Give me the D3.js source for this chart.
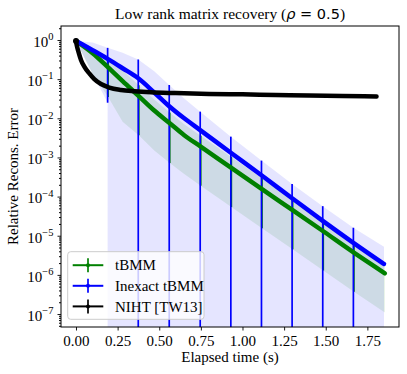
<!DOCTYPE html>
<html>
<head>
<meta charset="utf-8">
<script src="https://cdn.jsdelivr.net/npm/d3@7"></script>
<style>
  body { margin: 0; background: #fff; }
  svg { display: block; }
  text { font-family: "Liberation Serif", "Times New Roman", serif; }
</style>
</head>
<body>
<div id="chart"></div>
<script>
// tick labels
const xTicks = [0, 0.25, 0.5, 0.75, 1.0, 1.25, 1.5, 1.75];
const yTicks = [1, 1e-1, 1e-2, 1e-3, 1e-4, 1e-5, 1e-6, 1e-7];

// tBMM (green)
const tbmmTime = [0, 0.1, 0.193, 0.28, 0.377, 0.47, 0.563, 0.65, 0.749, 0.933, 1.117, 1.301, 1.485, 1.669, 1.855];
const tbmmErr  = [0.95, 0.46, 0.2, 0.089, 0.037, 0.0158, 0.0075, 0.0037, 0.0019, 5.4e-4, 1.55e-4, 4.5e-5, 1.3e-5, 3.7e-6, 1.1e-6];
const tbmmHi   = [0.95, 0.52, 0.33, 0.17, 0.07, 0.03, 0.014, 0.007, 0.0036, 1.03e-3, 2.95e-4, 8.5e-5, 2.5e-5, 7e-6, 2.1e-6];
const tbmmLo   = [0.95, 0.135, 0.035, 0.0082, 0.0037, 0.0015, 7.2e-4, 3.8e-4, 1.9e-4, 5.4e-5, 1.55e-5, 4.5e-6, 1.3e-6, 3.7e-7, 1.1e-7];
const tbmmBarTime = [0.193, 0.377, 0.563, 0.749, 0.933, 1.117, 1.301, 1.485, 1.669];

// Inexact tBMM (blue)
const inexactTime = [0, 0.1, 0.19, 0.28, 0.374, 0.47, 0.56, 0.65, 0.746, 0.93, 1.114, 1.298, 1.482, 1.666, 1.85];
const inexactErr  = [0.95, 0.55, 0.33, 0.19, 0.105, 0.0457, 0.0204, 0.01, 0.005, 1.32e-3, 3.5e-4, 9.1e-5, 2.4e-5, 6.6e-6, 1.9e-6];
// shaded spread (0 = below the axis)
const inexactBandTime = [0, 0.1, 0.19, 0.19, 0.28, 0.374, 0.47, 0.56, 0.65, 0.746, 0.93, 1.114, 1.298, 1.482, 1.666, 1.85];
const inexactHi = [0.95, 0.86, 0.63, 0.63, 0.47, 0.32, 0.16, 0.071, 0.032, 0.0148, 0.0034, 8.3e-4, 2.1e-4, 5.7e-5, 1.6e-5, 5.2e-6];
const inexactLo = [0.95, 0.135, 0.025, 0, 0, 0, 0, 0, 0, 0, 0, 0, 0, 0, 0, 0];
const inexactBarTime = [0.19, 0.374, 0.56, 0.746, 0.93, 1.114, 1.298, 1.482, 1.666];
const inexactBarHi   = [0.63, 0.32, 0.071, 0.0148, 0.0034, 8.3e-4, 2.1e-4, 5.7e-5, 1.6e-5];
const inexactBarLo   = [0.025, 0, 0, 0, 0, 0, 0, 0, 0];

// NIHT [TW13] (black)
const nihtTime = [0, 0.005, 0.015, 0.03, 0.05, 0.08, 0.11, 0.15, 0.2, 0.27, 0.35, 0.45, 0.6, 0.8, 1.0, 1.2, 1.4, 1.6, 1.805];
const nihtErr  = [0.95, 0.72, 0.5, 0.31, 0.21, 0.14, 0.1, 0.075, 0.061, 0.053, 0.049, 0.046, 0.044, 0.042, 0.041, 0.0395, 0.0385, 0.037, 0.036];

const legendLabels = ['tBMM', 'Inexact tBMM', 'NIHT [TW13]'];
const legendColors = ['green', 'blue', 'black'];

const fontSize = 15;

const margin = { top: 26, right: 8, bottom: 47, left: 61 },
    width = 407 - margin.left - margin.right,
    height = 374 - margin.top - margin.bottom;

const svg = d3.select('#chart').append('svg')
    .attr('width', 407)
    .attr('height', 374);

const g = svg.append('g')
    .attr('transform', 'translate(' + margin.left + ',' + margin.top + ')');

const x = d3.scaleLinear().domain([-0.09, 1.94]).range([0, width]);
const y = d3.scaleLog().domain([4.66e-8, 2.28]).range([height, 0]);

const yv = v => v > 0 ? y(v) : height + 20;

g.append('clipPath').attr('id', 'clip')
    .append('rect').attr('width', width).attr('height', height);

const plot = g.append('g').attr('clip-path', 'url(#clip)');

// shaded bands
const band = d3.area()
    .x(d => x(d.t))
    .y0(d => yv(d.lo))
    .y1(d => yv(d.hi));

plot.append('path')
    .datum(inexactBandTime.map((t, i) => ({ t: t, lo: inexactLo[i], hi: inexactHi[i] })))
    .attr('d', band)
    .attr('fill', 'blue').attr('fill-opacity', 0.1);

plot.append('path')
    .datum(tbmmTime.map((t, i) => ({ t: t, lo: tbmmLo[i], hi: tbmmHi[i] })))
    .attr('d', band)
    .attr('fill', 'green').attr('fill-opacity', 0.1);

// error bars
const tbmmBars = tbmmBarTime.map(t => {
    const i = tbmmTime.indexOf(t);
    return { t: t, lo: tbmmLo[i], hi: tbmmHi[i] };
});
const inexactBars = inexactBarTime.map((t, i) => ({ t: t, lo: inexactBarLo[i], hi: inexactBarHi[i] }));

[[tbmmBars, 'green'], [inexactBars, 'blue']].forEach(([bars, color]) => {
    plot.selectAll(null)
        .data(bars)
        .enter().append('line')
        .attr('x1', d => x(d.t)).attr('x2', d => x(d.t))
        .attr('y1', d => yv(d.lo)).attr('y2', d => yv(d.hi))
        .attr('stroke', color).attr('stroke-width', 1.7);
});

// lines
const line = d3.line()
    .x(d => x(d.t))
    .y(d => y(d.v))
    .curve(d3.curveMonotoneX);

const series = [
    [tbmmTime, tbmmErr, 'green'],
    [inexactTime, inexactErr, 'blue'],
    [nihtTime, nihtErr, 'black']
];
series.forEach(([ts, vs, color]) => {
    plot.append('path')
        .datum(ts.map((t, i) => ({ t: t, v: vs[i] })))
        .attr('d', line)
        .attr('fill', 'none')
        .attr('stroke', color)
        .attr('stroke-width', 4.5)
        .attr('stroke-linecap', 'round')
        .attr('stroke-linejoin', 'round');
});

plot.append('circle')
    .attr('cx', x(nihtTime[0])).attr('cy', y(nihtErr[0]))
    .attr('r', 3).attr('fill', 'black');

// axes
const xAxis = g.append('g')
    .attr('transform', 'translate(0,' + height + ')')
    .call(d3.axisBottom(x).tickValues(xTicks).tickFormat(d3.format('.2f')).tickSize(3.5).tickPadding(4.5));

const yAxis = g.append('g')
    .call(d3.axisLeft(y).tickValues(yTicks).tickSize(3.5).tickPadding(4));

yAxis.selectAll('.tick text').each(function (d) {
    const e = Math.round(Math.log10(d));
    const t = d3.select(this).text('10').attr('dy', '0.42em');
    t.append('tspan')
        .attr('dy', '-0.62em')
        .attr('font-size', '10.5px')
        .text(e === 0 ? '0' : '\u2212' + (-e));
});

const minor = [];
for (let k = -8; k <= 0; k++) {
    for (let m = 2; m <= 9; m++) {
        const v = m * Math.pow(10, k);
        if (v > y.domain()[0] && v < y.domain()[1]) minor.push(v);
    }
}
g.append('g')
    .call(d3.axisLeft(y).tickValues(minor).tickSize(2).tickFormat(''))
    .select('.domain').remove();

[xAxis, yAxis].forEach(a => {
    a.select('.domain').remove();
    a.attr('font-family', null).attr('font-size', fontSize);
    a.selectAll('line').attr('stroke-width', 0.9);
});

g.append('rect')
    .attr('width', width).attr('height', height)
    .attr('fill', 'none').attr('stroke', 'black').attr('stroke-width', 1);

// titles
const title = svg.append('text')
    .attr('x', margin.left + width / 2).attr('y', 19)
    .attr('text-anchor', 'middle').attr('font-size', 15.5);
title.append('tspan').text('Low rank matrix recovery (');
title.append('tspan').attr('font-family', 'DejaVu Sans').attr('font-style', 'italic').attr('font-size', 14.5).text('\u03c1');
title.append('tspan').attr('font-family', 'DejaVu Sans').attr('font-size', 14.5).text(' = 0.5');
title.append('tspan').text(')');

svg.append('text')
    .attr('x', margin.left + width / 2).attr('y', 362)
    .attr('text-anchor', 'middle').attr('font-size', fontSize)
    .text('Elapsed time (s)');

svg.append('text')
    .attr('transform', 'translate(18,' + (margin.top + height / 2) + ') rotate(-90)')
    .attr('text-anchor', 'middle').attr('font-size', fontSize)
    .text('Relative Recons. Error');

// legend
const legend = svg.append('g').attr('transform', 'translate(67.7,251.7)');
legend.append('rect')
    .attr('width', 136.3).attr('height', 67.6).attr('rx', 3)
    .attr('fill', 'white').attr('fill-opacity', 0.8)
    .attr('stroke', '#cccccc').attr('stroke-width', 1);

const entry = legend.selectAll('.entry')
    .data(legendLabels)
    .enter().append('g')
    .attr('transform', (d, i) => 'translate(0,' + (13.5 + i * 20.6) + ')');

entry.append('line')
    .attr('x1', 5).attr('x2', 35.6).attr('y1', 0).attr('y2', 0)
    .attr('stroke', (d, i) => legendColors[i]).attr('stroke-width', 2);
entry.append('line')
    .attr('x1', 20.3).attr('x2', 20.3).attr('y1', -7).attr('y2', 7)
    .attr('stroke', (d, i) => legendColors[i]).attr('stroke-width', 1.7);
entry.append('circle')
    .attr('cx', 20.3).attr('r', 2)
    .attr('fill', (d, i) => legendColors[i]);
entry.append('text')
    .attr('x', 47.3).attr('dy', '0.35em').attr('font-size', fontSize)
    .text(d => d);
</script>
</body>
</html>
